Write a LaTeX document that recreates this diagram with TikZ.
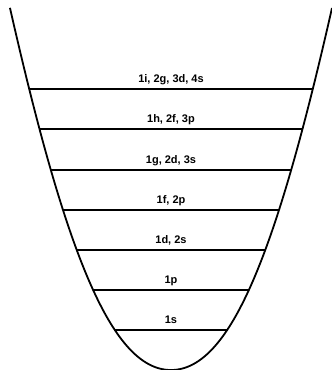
\documentclass[tikz,border=0pt]{standalone}
\usepackage{fontspec}
\setmainfont{Liberation Sans}
\begin{document}
\begin{tikzpicture}[x=1pt,y=-1pt,
  wall/.style={line width=1.8pt,line join=round},
  level/.style={line width=2pt},
  lvllabel/.style={anchor=base,inner sep=0pt,font=\fontsize{11}{13}\selectfont\bfseries}]
\useasboundingbox (0,0) rectangle (332,370);
\def\wellpath{plot[domain=-19.03:19.03,samples=241,variable=\s,smooth]
  ({171 + \s*(9.490 - 0.1173*abs(\s) + 0.003324*\s*\s)},{370 - \s*\s})}
\begin{scope}
  \clip \wellpath -- cycle;
  \foreach \yy in {89,129,170,210,250,290,330}
    \draw[level] (0,\yy) -- (332,\yy);
\end{scope}
\draw[wall] \wellpath;
\node[lvllabel] (l1) at (171,82) {1i, 2g, 3d, 4s};
\node[lvllabel] (l2) at (171,122) {1h, 2f, 3p};
\node[lvllabel] (l3) at (171,163) {1g, 2d, 3s};
\node[lvllabel] (l4) at (171,203) {1f, 2p};
\node[lvllabel] (l5) at (171,243) {1d, 2s};
\node[lvllabel] (l6) at (171,283) {1p};
\node[lvllabel] (l7) at (171,323) {1s};
\end{tikzpicture}
\end{document}
